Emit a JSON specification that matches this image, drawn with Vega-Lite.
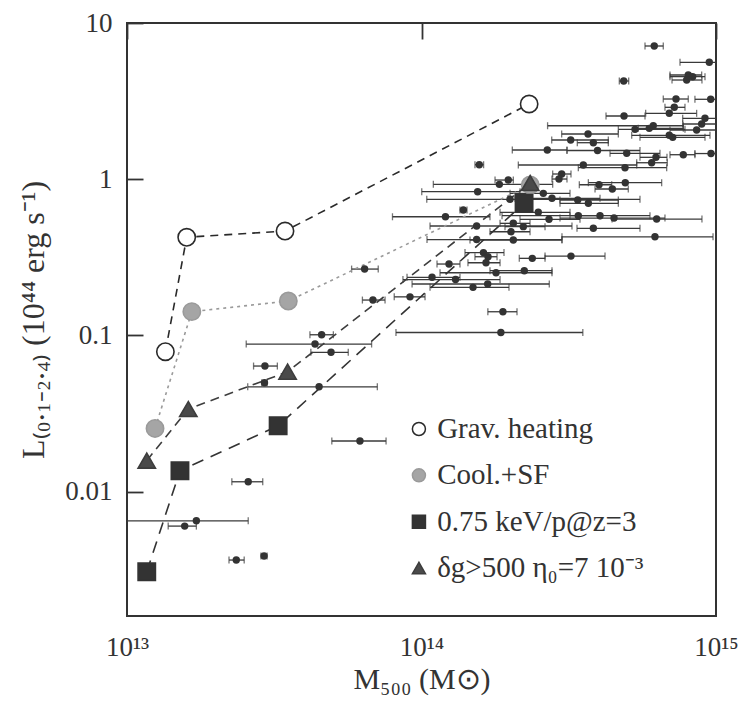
{
  "$schema": "https://vega.github.io/schema/vega-lite/v6.json",
  "width": 589,
  "height": 593,
  "autosize": {"type": "none"},
  "padding": {"left": 127, "top": 23, "right": 28, "bottom": 85},
  "background": "white",
  "config": {
    "view": {"stroke": "#333333", "strokeWidth": 2},
    "axis": {"domain": false, "ticks": false, "tickSize": 0, "grid": true, "gridColor": "#333333", "gridWidth": 1.8, "gridOpacity": 1}
  },
  "datasets": {
    "obs": [
      {"M":1.72e13,"L":0.00651,"Mlo":8.1e12,"Mhi":2.58e13},
      {"M":1.57e13,"L":0.00602,"Mlo":1.38e13,"Mhi":1.72e13},
      {"M":2.58e13,"L":0.01157,"Mlo":2.27e13,"Mhi":2.89e13},
      {"M":2.35e13,"L":0.00365,"Mlo":2.22e13,"Mhi":2.50e13},
      {"M":2.92e13,"L":0.00387,"Mlo":2.85e13,"Mhi":2.99e13},
      {"M":6.18e13,"L":0.0211,"Mlo":4.96e13,"Mhi":7.58e13},
      {"M":4.49e13,"L":0.0469,"Mlo":2.57e13,"Mhi":7.08e13},
      {"M":2.93e13,"L":0.0498,"Mlo":2.87e13,"Mhi":2.99e13},
      {"M":2.94e13,"L":0.0637,"Mlo":2.69e13,"Mhi":3.24e13},
      {"M":4.93e13,"L":0.078,"Mlo":4.21e13,"Mhi":5.64e13},
      {"M":4.35e13,"L":0.0881,"Mlo":2.54e13,"Mhi":6.77e13},
      {"M":4.58e13,"L":0.101,"Mlo":4.18e13,"Mhi":5.02e13},
      {"M":1.86e14,"L":0.1044,"Mlo":8.19e13,"Mhi":3.53e14},
      {"M":1.89e14,"L":0.1418,"Mlo":1.68e14,"Mhi":2.11e14},
      {"M":6.41e13,"L":0.266,"Mlo":5.79e13,"Mhi":7.13e13},
      {"M":6.84e13,"L":0.1685,"Mlo":6.30e13,"Mhi":7.52e13},
      {"M":9.14e13,"L":0.1766,"Mlo":8.08e13,"Mhi":1.028e14},
      {"M":1.086e14,"L":0.2355,"Mlo":8.93e13,"Mhi":1.351e14},
      {"M":1.305e14,"L":0.228,"Mlo":8.65e13,"Mhi":1.848e14},
      {"M":1.496e14,"L":0.2032,"Mlo":1.069e14,"Mhi":1.982e14},
      {"M":1.678e14,"L":0.2134,"Mlo":9.29e13,"Mhi":2.716e14},
      {"M":1.791e14,"L":0.252,"Mlo":1.156e14,"Mhi":2.774e14},
      {"M":2.234e14,"L":0.2596,"Mlo":1.708e14,"Mhi":2.774e14},
      {"M":1.24e14,"L":0.2865,"Mlo":1.129e14,"Mhi":1.351e14},
      {"M":1.623e14,"L":0.339,"Mlo":1.405e14,"Mhi":1.906e14},
      {"M":1.682e14,"L":0.319,"Mlo":1.519e14,"Mhi":1.805e14},
      {"M":1.656e14,"L":0.292,"Mlo":1.438e14,"Mhi":1.848e14},
      {"M":2.378e14,"L":0.3116,"Mlo":2.148e14,"Mhi":2.627e14},
      {"M":3.218e14,"L":0.322,"Mlo":2.627e14,"Mhi":4.199e14},
      {"M":1.539e14,"L":0.411,"Mlo":1.044e14,"Mhi":2.999e14},
      {"M":2.05e14,"L":0.408,"Mlo":1.461e14,"Mhi":2.999e14},
      {"M":6.205e14,"L":0.428,"Mlo":2.999e14,"Mhi":9.77e14},
      {"M":2.013e14,"L":0.461,"Mlo":1.708e14,"Mhi":2.336e14},
      {"M":3.833e14,"L":0.485,"Mlo":3.373e14,"Mhi":5.519e14},
      {"M":1.539e14,"L":0.502,"Mlo":1.069e14,"Mhi":3.243e14},
      {"M":2.05e14,"L":0.522,"Mlo":1.848e14,"Mhi":2.336e14},
      {"M":2.217e14,"L":0.497,"Mlo":1.921e14,"Mhi":2.627e14},
      {"M":1.206e14,"L":0.575,"Mlo":7.97e13,"Mhi":1.708e14},
      {"M":1.387e14,"L":0.635,"Mlo":1.351e14,"Mhi":1.427e14},
      {"M":2.492e14,"L":0.614,"Mlo":1.848e14,"Mhi":3.193e14},
      {"M":2.71e14,"L":0.554,"Mlo":2.16e14,"Mhi":3.453e14},
      {"M":3.408e14,"L":0.584,"Mlo":1.877e14,"Mhi":4.038e14},
      {"M":4.038e14,"L":0.584,"Mlo":3.193e14,"Mhi":5.967e14},
      {"M":4.505e14,"L":0.564,"Mlo":2.953e14,"Mhi":6.71e14},
      {"M":6.288e14,"L":0.556,"Mlo":4.436e14,"Mhi":8.96e14},
      {"M":1.998e14,"L":0.744,"Mlo":1.042e14,"Mhi":5.519e14},
      {"M":2.592e14,"L":0.812,"Mlo":1.998e14,"Mhi":3.193e14},
      {"M":2.774e14,"L":0.755,"Mlo":2.077e14,"Mhi":4.038e14},
      {"M":3.392e14,"L":0.736,"Mlo":2.953e14,"Mhi":4.66e14},
      {"M":3.686e14,"L":0.701,"Mlo":2.953e14,"Mhi":4.66e14},
      {"M":1.551e14,"L":0.832,"Mlo":1.002e14,"Mhi":2.16e14},
      {"M":1.838e14,"L":0.927,"Mlo":1.097e14,"Mhi":2.789e14},
      {"M":1.971e14,"L":0.988,"Mlo":1.777e14,"Mhi":2.05e14},
      {"M":2.992e14,"L":1.08,"Mlo":2.789e14,"Mhi":3.218e14},
      {"M":2.93e14,"L":1.003,"Mlo":2.774e14,"Mhi":3.119e14},
      {"M":4.007e14,"L":0.922,"Mlo":3.435e14,"Mhi":4.424e14},
      {"M":4.92e14,"L":0.95,"Mlo":3.686e14,"Mhi":6.539e14},
      {"M":4.446e14,"L":0.866,"Mlo":3.884e14,"Mhi":5.037e14},
      {"M":1.571e14,"L":1.238,"Mlo":1.519e14,"Mhi":1.625e14},
      {"M":3.544e14,"L":1.233,"Mlo":2.132e14,"Mhi":5.379e14},
      {"M":4.909e14,"L":1.185,"Mlo":3.408e14,"Mhi":6.8e14},
      {"M":6.047e14,"L":1.275,"Mlo":5.379e14,"Mhi":6.832e14},
      {"M":6.254e14,"L":1.381,"Mlo":5.519e14,"Mhi":6.816e14},
      {"M":2.674e14,"L":1.538,"Mlo":2.034e14,"Mhi":3.119e14},
      {"M":3.96e14,"L":1.527,"Mlo":3.119e14,"Mhi":5.519e14},
      {"M":4.975e14,"L":1.465,"Mlo":4.367e14,"Mhi":6.452e14},
      {"M":7.744e14,"L":1.435,"Mlo":6.979e14,"Mhi":8.481e14},
      {"M":9.616e14,"L":1.46,"Mlo":8.481e14,"Mhi":1.05e15},
      {"M":3.211e14,"L":1.782,"Mlo":2.768e14,"Mhi":4.309e14},
      {"M":3.833e14,"L":1.713,"Mlo":3.381e14,"Mhi":4.309e14},
      {"M":6.94e14,"L":1.91,"Mlo":5.173e14,"Mhi":9.54e14},
      {"M":7.129e14,"L":1.854,"Mlo":5.519e14,"Mhi":9.175e14},
      {"M":3.677e14,"L":1.947,"Mlo":2.992e14,"Mhi":4.66e14},
      {"M":5.309e14,"L":2.086,"Mlo":4.66e14,"Mhi":7.846e14},
      {"M":6.123e14,"L":2.2,"Mlo":2.68e14,"Mhi":7.744e14},
      {"M":5.935e14,"L":2.117,"Mlo":5.447e14,"Mhi":7.744e14},
      {"M":9.175e14,"L":2.454,"Mlo":7.707e14,"Mhi":1.005e15},
      {"M":8.94e14,"L":2.256,"Mlo":7.707e14,"Mhi":1.005e15},
      {"M":8.595e14,"L":2.065,"Mlo":6.979e14,"Mhi":1.005e15},
      {"M":4.872e14,"L":2.539,"Mlo":4.232e14,"Mhi":5.74e14},
      {"M":6.94e14,"L":2.642,"Mlo":5.77e14,"Mhi":8.595e14},
      {"M":7.218e14,"L":2.886,"Mlo":6.71e14,"Mhi":7.846e14},
      {"M":7.315e14,"L":3.262,"Mlo":6.622e14,"Mhi":8.051e14},
      {"M":9.594e14,"L":3.248,"Mlo":8.481e14,"Mhi":1.073e15},
      {"M":4.86e14,"L":4.253,"Mlo":4.696e14,"Mhi":5.053e14},
      {"M":8.051e14,"L":4.646,"Mlo":6.979e14,"Mhi":8.94e14},
      {"M":8.33e14,"L":4.531,"Mlo":6.979e14,"Mhi":9.175e14},
      {"M":7.952e14,"L":4.316,"Mlo":7.09e14,"Mhi":8.96e14},
      {"M":9.49e14,"L":5.603,"Mlo":7.547e14,"Mhi":1.073e15},
      {"M":6.171e14,"L":7.125,"Mlo":5.74e14,"Mhi":6.622e14}
    ],
    "model": [
      {"series":"Grav. heating","M":1.35e13,"L":0.0787},
      {"series":"Grav. heating","M":1.595e13,"L":0.425},
      {"series":"Grav. heating","M":3.44e13,"L":0.466},
      {"series":"Grav. heating","M":2.32e14,"L":3.03},
      {"series":"Cool.+SF","M":1.245e13,"L":0.0254},
      {"series":"Cool.+SF","M":1.66e13,"L":0.142},
      {"series":"Cool.+SF","M":3.53e13,"L":0.166},
      {"series":"Cool.+SF","M":2.34e14,"L":0.918},
      {"series":"0.75 keV/p@z=3","M":1.167e13,"L":0.00307},
      {"series":"0.75 keV/p@z=3","M":1.513e13,"L":0.0136},
      {"series":"0.75 keV/p@z=3","M":3.26e13,"L":0.0264},
      {"series":"0.75 keV/p@z=3","M":2.23e14,"L":0.701},
      {"series":"δg>500 η₀=7 10⁻³","M":1.167e13,"L":0.0158},
      {"series":"δg>500 η₀=7 10⁻³","M":1.615e13,"L":0.0338},
      {"series":"δg>500 η₀=7 10⁻³","M":3.51e13,"L":0.0586},
      {"series":"δg>500 η₀=7 10⁻³","M":2.34e14,"L":0.946}
    ]
  },
  "resolve": {"scale": {"y": "independent"}, "axis": {"x": "independent", "y": "independent"}},
  "layer": [
    {
      "data": {"name": "obs"},
      "mark": {"type": "rule", "color": "#3a3a3a", "strokeWidth": 1.3, "clip": true},
      "encoding": {
        "x": {"field": "Mlo", "type": "quantitative",
          "scale": {"type": "log", "domain": [1e13, 1e15], "nice": false},
          "axis": {"orient": "bottom", "values": [1e13, 1e14, 1e15], "gridDash": [16, 2000],
            "labelFont": "Liberation Serif", "labelFontSize": 27, "labelColor": "#333333", "labelPadding": 18, "labelFlush": false, "labelOverlap": false,
            "labelExpr": "datum.value < 5e13 ? '10¹³' : (datum.value < 5e14 ? '10¹⁴' : '10¹⁵')",
            "title": "M₅₀₀ (M⊙)", "titleFont": "Liberation Serif", "titleFontSize": 30, "titleFontWeight": "normal", "titleColor": "#333333", "titlePadding": 4}},
        "x2": {"field": "Mhi"},
        "y": {"field": "L", "type": "quantitative",
          "scale": {"type": "log", "domain": [0.0016, 10], "nice": false},
          "axis": {"orient": "left", "values": [0.01, 0.1, 1, 10], "gridDash": [16, 2000],
            "labelFont": "Liberation Serif", "labelFontSize": 27, "labelColor": "#333333", "labelPadding": 15, "labelFlush": false, "labelOverlap": false,
            "labelExpr": "datum.value > 5 ? '10' : (datum.value > 0.5 ? '1' : (datum.value > 0.05 ? '0.1' : '0.01'))",
            "title": "L₍₀.₁₋₂.₄₎ (10⁴⁴ erg s⁻¹)", "titleFont": "Liberation Serif", "titleFontSize": 32, "titleFontWeight": "normal", "titleColor": "#333333", "titlePadding": 14}}
      }
    },
    {
      "data": {"name": "obs"},
      "mark": {"type": "tick", "orient": "vertical", "size": 7, "thickness": 1.3, "color": "#3a3a3a", "clip": true},
      "encoding": {
        "x": {"field": "Mlo", "type": "quantitative",
          "scale": {"type": "log", "domain": [1e13, 1e15], "nice": false},
          "axis": {"orient": "bottom", "values": [2e13,3e13,4e13,5e13,6e13,7e13,8e13,9e13,2e14,3e14,4e14,5e14,6e14,7e14,8e14,9e14], "gridDash": [9, 2000], "labels": false, "title": null}},
        "y": {"field": "L", "type": "quantitative",
          "scale": {"type": "log", "domain": [0.0016, 10], "nice": false},
          "axis": {"orient": "left", "values": [0.002,0.003,0.004,0.005,0.006,0.007,0.008,0.009,0.02,0.03,0.04,0.05,0.06,0.07,0.08,0.09,0.2,0.3,0.4,0.5,0.6,0.7,0.8,0.9,2,3,4,5,6,7,8,9], "gridDash": [9, 2000], "labels": false, "title": null}}
      }
    },
    {
      "data": {"name": "obs"},
      "mark": {"type": "tick", "orient": "vertical", "size": 7, "thickness": 1.3, "color": "#3a3a3a", "clip": true},
      "encoding": {
        "x": {"field": "Mhi", "type": "quantitative",
          "scale": {"type": "log", "domain": [1e13, 1e15], "nice": false},
          "axis": {"orient": "top", "values": [1e13, 1e14, 1e15], "gridDash": [16, 2000], "labels": false, "title": null}},
        "y": {"field": "L", "type": "quantitative",
          "scale": {"type": "log", "domain": [0.0016, 10], "nice": false},
          "axis": {"orient": "right", "values": [0.01, 0.1, 1, 10], "gridDash": [16, 2000], "labels": false, "title": null}}
      }
    },
    {
      "data": {"name": "model"},
      "mark": {"type": "line", "strokeWidth": 1.6, "clip": true},
      "encoding": {
        "x": {"field": "M", "type": "quantitative",
          "scale": {"type": "log", "domain": [1e13, 1e15], "nice": false},
          "axis": {"orient": "top", "values": [2e13,3e13,4e13,5e13,6e13,7e13,8e13,9e13,2e14,3e14,4e14,5e14,6e14,7e14,8e14,9e14], "gridDash": [9, 2000], "labels": false, "title": null}},
        "y": {"field": "L", "type": "quantitative",
          "scale": {"type": "log", "domain": [0.0016, 10], "nice": false},
          "axis": {"orient": "right", "values": [0.002,0.003,0.004,0.005,0.006,0.007,0.008,0.009,0.02,0.03,0.04,0.05,0.06,0.07,0.08,0.09,0.2,0.3,0.4,0.5,0.6,0.7,0.8,0.9,2,3,4,5,6,7,8,9], "gridDash": [9, 2000], "labels": false, "title": null}},
        "stroke": {"field": "series", "type": "nominal", "legend": null,
          "scale": {"domain": ["Grav. heating", "Cool.+SF", "0.75 keV/p@z=3", "δg>500 η₀=7 10⁻³"], "range": ["#2a2a2a", "#9a9a9a", "#333333", "#3d3d3d"]}},
        "strokeDash": {"field": "series", "type": "nominal", "legend": null,
          "scale": {"domain": ["Grav. heating", "Cool.+SF", "0.75 keV/p@z=3", "δg>500 η₀=7 10⁻³"], "range": [[8, 6], [3, 4], [12, 8], [9, 6]]}}
      }
    },
    {
      "data": {"name": "obs"},
      "mark": {"type": "circle", "size": 55, "color": "#333333", "opacity": 1},
      "encoding": {
        "x": {"field": "M", "type": "quantitative", "scale": {"type": "log", "domain": [1e13, 1e15], "nice": false}, "axis": null},
        "y": {"field": "L", "type": "quantitative", "scale": {"type": "log", "domain": [0.0016, 10], "nice": false}, "axis": null}
      }
    },
    {
      "data": {"name": "model"},
      "mark": {"type": "point", "filled": true, "size": 300, "strokeWidth": 1.6, "opacity": 1},
      "encoding": {
        "x": {"field": "M", "type": "quantitative", "scale": {"type": "log", "domain": [1e13, 1e15], "nice": false}, "axis": null},
        "y": {"field": "L", "type": "quantitative", "scale": {"type": "log", "domain": [0.0016, 10], "nice": false}, "axis": null},
        "fill": {"field": "series", "type": "nominal", "legend": null,
          "scale": {"domain": ["Grav. heating", "Cool.+SF", "0.75 keV/p@z=3", "δg>500 η₀=7 10⁻³"], "range": ["white", "#a5a5a5", "#333333", "#4a4a4a"]}},
        "stroke": {"field": "series", "type": "nominal", "legend": null,
          "scale": {"domain": ["Grav. heating", "Cool.+SF", "0.75 keV/p@z=3", "δg>500 η₀=7 10⁻³"], "range": ["#2a2a2a", "#9a9a9a", "#333333", "#3d3d3d"]}},
        "shape": {"field": "series", "type": "nominal", "legend": null,
          "scale": {"domain": ["Grav. heating", "Cool.+SF", "0.75 keV/p@z=3", "δg>500 η₀=7 10⁻³"], "range": ["circle", "circle", "square", "triangle-up"]}}
      }
    },
    {
      "data": {"name": "model"},
      "transform": [{"aggregate": [{"op": "count", "as": "n"}], "groupby": ["series"]}],
      "mark": {"type": "point", "filled": true, "size": 170, "strokeWidth": 1.5, "opacity": 1},
      "encoding": {
        "x": {"datum": 9.8e13, "type": "quantitative", "scale": {"type": "log", "domain": [1e13, 1e15], "nice": false}, "axis": null},
        "y": {"field": "series", "type": "nominal", "scale": {"type": "point", "padding": 0, "domain": ["Grav. heating", "Cool.+SF", "0.75 keV/p@z=3", "δg>500 η₀=7 10⁻³"], "range": [406, 545]}, "axis": null},
        "fill": {"field": "series", "type": "nominal", "legend": null},
        "stroke": {"field": "series", "type": "nominal", "legend": null},
        "shape": {"field": "series", "type": "nominal", "legend": null}
      }
    },
    {
      "data": {"name": "model"},
      "transform": [{"aggregate": [{"op": "count", "as": "n"}], "groupby": ["series"]}],
      "mark": {"type": "text", "align": "left", "baseline": "middle", "font": "Liberation Serif", "fontSize": 29, "color": "#333333"},
      "encoding": {
        "x": {"datum": 1.13e14, "type": "quantitative", "scale": {"type": "log", "domain": [1e13, 1e15], "nice": false}, "axis": null},
        "y": {"field": "series", "type": "nominal", "scale": {"type": "point", "padding": 0, "domain": ["Grav. heating", "Cool.+SF", "0.75 keV/p@z=3", "δg>500 η₀=7 10⁻³"], "range": [406, 545]}, "axis": null},
        "text": {"field": "series", "type": "nominal"}
      }
    }
  ]
}
